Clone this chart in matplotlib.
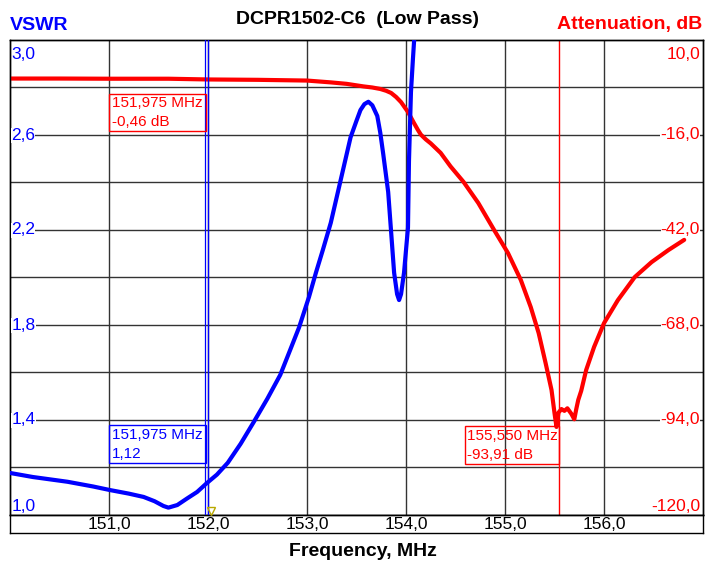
import matplotlib.pyplot as plt
import matplotlib.transforms as mtransforms
from matplotlib.patches import Rectangle

plt.rcParams['font.family'] = ['Liberation Sans', 'DejaVu Sans']

# VSWR trace (left axis)
freq_vswr = [150.0, 150.23, 150.58, 150.84, 151.01, 151.2, 151.35, 151.46, 151.55, 151.6,
             151.69, 151.79, 151.89, 151.99, 152.09, 152.2, 152.33, 152.46, 152.6,
             152.73, 152.83, 152.92, 153.02, 153.09, 153.16, 153.24, 153.34, 153.44,
             153.5, 153.54, 153.58, 153.62, 153.66, 153.71, 153.74, 153.77, 153.82,
             153.85, 153.88, 153.91, 153.93, 153.95, 153.98, 154.02, 154.03, 154.05,
             154.07, 154.09]
vswr = [1.177, 1.16, 1.14, 1.12, 1.105, 1.09, 1.076, 1.058, 1.038, 1.031,
        1.042, 1.07, 1.097, 1.135, 1.17, 1.22, 1.30, 1.39, 1.49,
        1.59, 1.695, 1.79, 1.918, 2.02, 2.116, 2.23, 2.41, 2.59,
        2.66, 2.705, 2.73, 2.74, 2.725, 2.68, 2.61, 2.52, 2.36,
        2.19, 2.02, 1.93, 1.905, 1.93, 2.02, 2.21, 2.49, 2.78,
        2.92, 3.05]

# attenuation trace (right axis)
freq_att = [150.0, 150.5, 151.0, 151.6, 152.0, 152.5, 153.0, 153.24, 153.4, 153.57,
            153.66, 153.74, 153.8, 153.85, 153.9, 153.95, 154.02, 154.08, 154.12,
            154.15, 154.2, 154.25, 154.35, 154.45, 154.58, 154.73, 154.89, 155.03,
            155.16, 155.26, 155.34, 155.41, 155.47, 155.50, 155.52, 155.54, 155.57,
            155.60, 155.63, 155.67, 155.70, 155.72, 155.74, 155.77, 155.82, 155.90,
            156.00, 156.14, 156.31, 156.48, 156.65, 156.81]
att = [-0.55, -0.55, -0.6, -0.6, -0.8, -0.9, -1.1, -1.6, -2.0, -2.7,
       -3.0, -3.4, -3.9, -4.5, -5.6, -7.0, -9.7, -12.7, -14.6,
       -15.9, -17.2, -18.3, -20.9, -24.6, -28.8, -34.6, -42.0, -48.3,
       -55.7, -63.1, -70.2, -78.4, -85.8, -92.1, -95.9, -92.0, -91.0,
       -91.5, -90.8, -92.3, -93.8, -91.0, -88.5, -86.0, -80.3, -74.0,
       -67.5, -61.2, -54.9, -50.8, -47.5, -44.7]

x_ticks = [151, 152, 153, 154, 155, 156]
vswr_ticks = [3.0, 2.6, 2.2, 1.8, 1.4, 1.0]
att_ticks = [10, -16, -42, -68, -94, -120]

marker1 = 151.975
marker2 = 155.55

BLUE = '#0000ff'
RED = '#ff0000'
GRID = '#333333'

fig = plt.figure(figsize=(7.17, 5.74), dpi=100)
ax = fig.add_axes([10/717, 1-515/574, 693/717, 475/574])
ax2 = ax.twinx()
ax.set_zorder(ax2.get_zorder() + 1)
ax.patch.set_visible(False)

ax.set_xlim(150, 157)
ax.set_ylim(1.0, 3.0)
ax2.set_ylim(-120, 10)

# grid (on the rear axes so the traces sit on top)
for xv in x_ticks:
    ax2.axvline(xv, color=GRID, lw=1.0, zorder=1)
for k in range(1, 10):
    ax2.axhline(-120 + 13 * k, color=GRID, lw=1.0, zorder=1)

for a in (ax, ax2):
    a.set_xticks([])
    a.set_yticks([])
    for s in a.spines.values():
        s.set_color('black')
        s.set_linewidth(1.0)

ax2.plot(freq_att, att, color=RED, lw=3, solid_joinstyle='round', solid_capstyle='round', zorder=3)
ax.plot(freq_vswr, vswr, color=BLUE, lw=3, solid_joinstyle='round', solid_capstyle='round', zorder=3)

# markers
ax2.axvline(marker2, color=RED, lw=1.0, zorder=2)
ax.axvline(marker1 - 0.004, color=BLUE, lw=0.9, zorder=4)
ax.axvline(152.0, color=BLUE, lw=0.9, zorder=4)

tr = mtransforms.blended_transform_factory(ax.transData, ax.transAxes)
ax.add_patch(Rectangle((151.0, 0.8084), marker1 - 151.0, 0.8863 - 0.8084, transform=tr,
                       fill=False, edgecolor=RED, lw=1.0, zorder=5))
ax.text(151.03, 0.8674, '151,975 MHz', color=RED, fontsize=11, va='center', transform=tr, zorder=6)
ax.text(151.03, 0.8284, '-0,46 dB', color=RED, fontsize=11, va='center', transform=tr, zorder=6)

ax.add_patch(Rectangle((151.0, 0.1095), marker1 - 151.0, 0.1895 - 0.1095, transform=tr,
                       fill=False, edgecolor=BLUE, lw=1.0, zorder=5))
ax.text(151.03, 0.1684, '151,975 MHz', color=BLUE, fontsize=11, va='center', transform=tr, zorder=6)
ax.text(151.03, 0.1284, '1,12', color=BLUE, fontsize=11, va='center', transform=tr, zorder=6)

ax.add_patch(Rectangle((154.595, 0.1074), marker2 - 154.595, 0.1874 - 0.1074, transform=tr,
                       fill=False, edgecolor=RED, lw=1.0, zorder=5))
ax.text(154.62, 0.1653, '155,550 MHz', color=RED, fontsize=11, va='center', transform=tr, zorder=6)
ax.text(154.62, 0.1253, '-93,91 dB', color=RED, fontsize=11, va='center', transform=tr, zorder=6)

ax.plot([152.03], [0.008], marker='v', ms=6, mfc='none', mec='#b8a800', mew=1.0,
        transform=tr, clip_on=False, zorder=6)

# tick labels drawn inside the plot area
trl = mtransforms.blended_transform_factory(ax.transAxes, ax.transData)
for v in vswr_ticks:
    lab = ('%.1f' % v).replace('.', ',')
    if v == 3.0:
        ax.text(0.002, 3.0 - 19/237.5, lab, color=BLUE, fontsize=12.5, va='baseline', transform=trl)
    elif v == 1.0:
        ax.text(0.002, 1.0 + 4/237.5, lab, color=BLUE, fontsize=12.5, va='baseline', transform=trl)
    else:
        ax.text(0.002, v, lab, color=BLUE, fontsize=12.5, va='center', transform=trl, zorder=6,
                bbox=dict(facecolor='white', edgecolor='none', pad=0))

trr = mtransforms.blended_transform_factory(ax2.transAxes, ax2.transData)
for v in att_ticks:
    lab = ('%.1f' % v).replace('.', ',')
    if v == 10:
        ax2.text(0.9955, 10 - 19*0.2737, lab, color=RED, fontsize=12.5, ha='right', va='baseline', transform=trr)
    elif v == -120:
        ax2.text(0.9955, -120 + 4*0.2737, lab, color=RED, fontsize=12.5, ha='right', va='baseline', transform=trr)
    else:
        ax2.text(0.9955, v, lab, color=RED, fontsize=12.5, ha='right', va='center', transform=trr, zorder=6,
                 bbox=dict(facecolor='white', edgecolor='none', pad=0))

# band with the frequency labels
axb = fig.add_axes([10/717, 1-533/574, 693/717, 18/574])
axb.set_xlim(150, 157)
axb.set_ylim(0, 1)
axb.set_xticks([])
axb.set_yticks([])
for s in axb.spines.values():
    s.set_linewidth(1.0)
for xv in x_ticks:
    axb.text(xv, 0.45, ('%.1f' % xv).replace('.', ','), fontsize=12.5, ha='center', va='center')

fig.text(358/717, 1-20/574, 'DCPR1502-C6  (Low Pass)', fontsize=14, fontweight='bold', ha='center', va='center')
fig.text(10/717, 1-26/574, 'VSWR', fontsize=14, fontweight='bold', color=BLUE, ha='left', va='center')
fig.text(702/717, 1-25/574, 'Attenuation, dB', fontsize=14, fontweight='bold', color=RED, ha='right', va='center')
fig.text(363/717, 1-551/574, 'Frequency, MHz', fontsize=14, fontweight='bold', ha='center', va='center')

fig.savefig('out.png', dpi=100)
